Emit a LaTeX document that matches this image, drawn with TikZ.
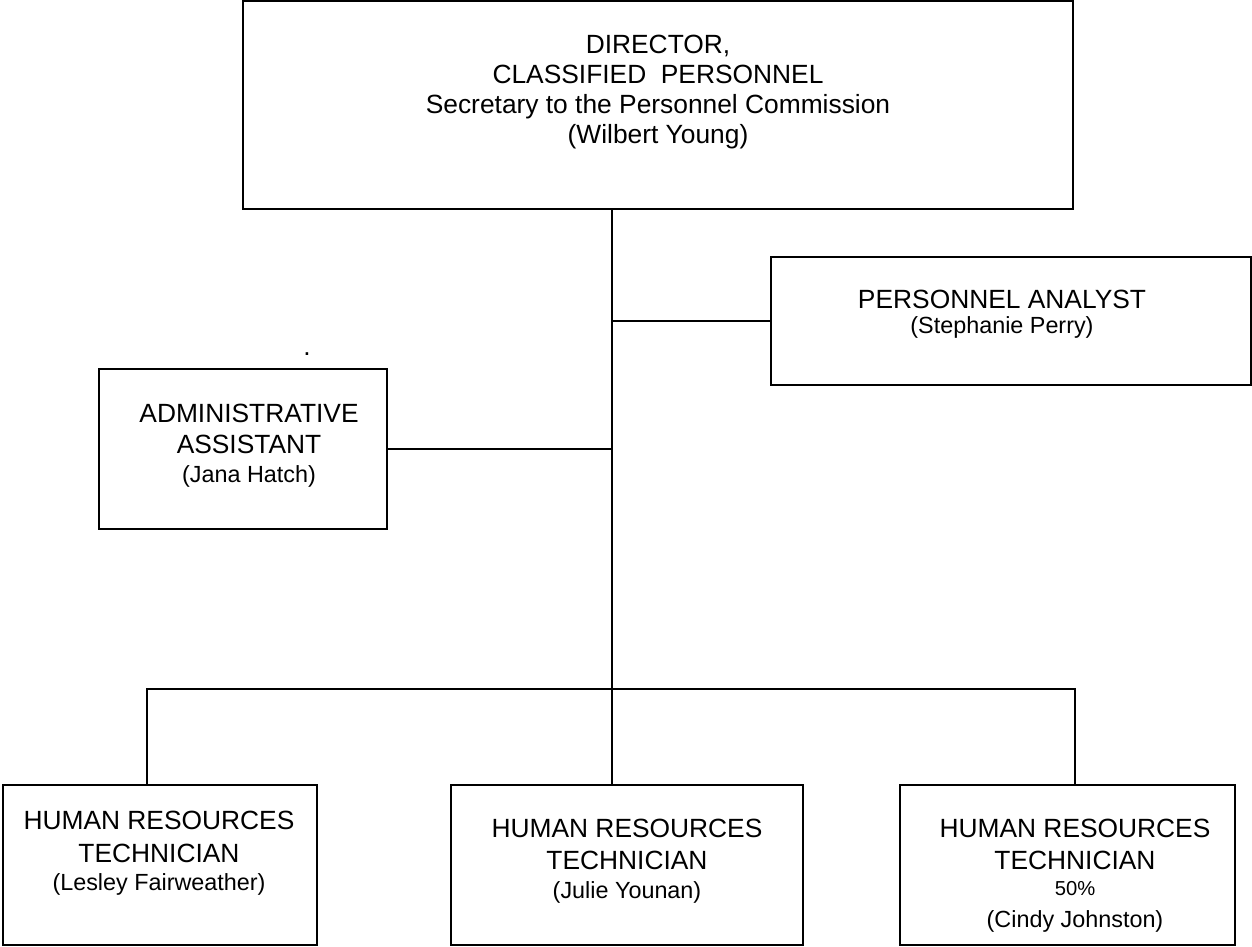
\documentclass[tikz,border=0pt]{standalone}
\usepackage{fontspec}
\setmainfont{Liberation Sans}
\newlength{\px}
\setlength{\px}{0.02cm}
\newcommand{\nameSize}{\fontsize{13.3pt}{18pt}\selectfont}
\newcommand{\pctSize}{\fontsize{11.5pt}{18pt}\selectfont}

\begin{document}
\begin{tikzpicture}[x=0.02cm, y=-0.02cm]

    \tikzstyle{orgBox} = [draw, line width=0.9pt, inner sep=0pt];
    \tikzstyle{orgText} = [align=center, anchor=base, inner sep=0pt, font=\fontsize{15pt}{18pt}\selectfont];
    \tikzstyle{orgEdge} = [line width=0.9pt];

    \useasboundingbox (0,0) rectangle (1252,947);

    \node[orgBox, minimum width=830\px, minimum height=208\px] (director) at (658,105) {};
    \node[orgBox, minimum width=480\px, minimum height=128\px] (analyst)  at (1011,321) {};
    \node[orgBox, minimum width=288\px, minimum height=160\px] (admin)    at (243,449) {};
    \node[orgBox, minimum width=314\px, minimum height=160\px] (tech1)    at (160,865) {};
    \node[orgBox, minimum width=352\px, minimum height=160\px] (tech2)    at (627,865) {};
    \node[orgBox, minimum width=335\px, minimum height=160\px] (tech3)    at (1067.5,865) {};

    % text nodes sit on the baseline of their last line
    \node[orgText] (directorText) at (658,143) {DIRECTOR,\\[-1pt]CLASSIFIED~~PERSONNEL\\[-1pt]Secretary to the Personnel Commission\\[-1pt](Wilbert Young)};
    \node[orgText] (analystText) at (1002,333) {PERSONNEL ANALYST\\[-3.8pt]{\nameSize (Stephanie Perry)}};
    \node[orgText] (adminText) at (249,482) {ADMINISTRATIVE\\[-0.4pt]ASSISTANT\\[-1.5pt]{\nameSize (Jana Hatch)}};
    \node[orgText] (tech1Text) at (159,890) {HUMAN RESOURCES\\[0.8pt]TECHNICIAN\\[-2.6pt]{\nameSize (Lesley Fairweather)}};
    \node[orgText] (tech2Text) at (627,898) {HUMAN RESOURCES\\TECHNICIAN\\[-1.5pt]{\nameSize (Julie Younan)}};
    \node[orgText] (tech3Text) at (1075,927) {HUMAN RESOURCES\\TECHNICIAN\\[-3.2pt]{\pctSize 50\%}\\{\nameSize (Cindy Johnston)}};
    \node[orgText] (dot) at (307,355) {.};

    \coordinate (hub) at (612,689);
    \coordinate (busLeft) at (147,689);
    \coordinate (busRight) at (1075,689);

    \draw[orgEdge] (director.south -| hub) -- (tech2.north -| hub);
    \draw[orgEdge] (analyst.west) -- (analyst.west -| hub);
    \draw[orgEdge] (admin.east) -- (admin.east -| hub);
    \draw[orgEdge] (busLeft |- tech1.north) -- (busLeft) -- (busRight) -- (busRight |- tech3.north);
\end{tikzpicture}
\end{document}
